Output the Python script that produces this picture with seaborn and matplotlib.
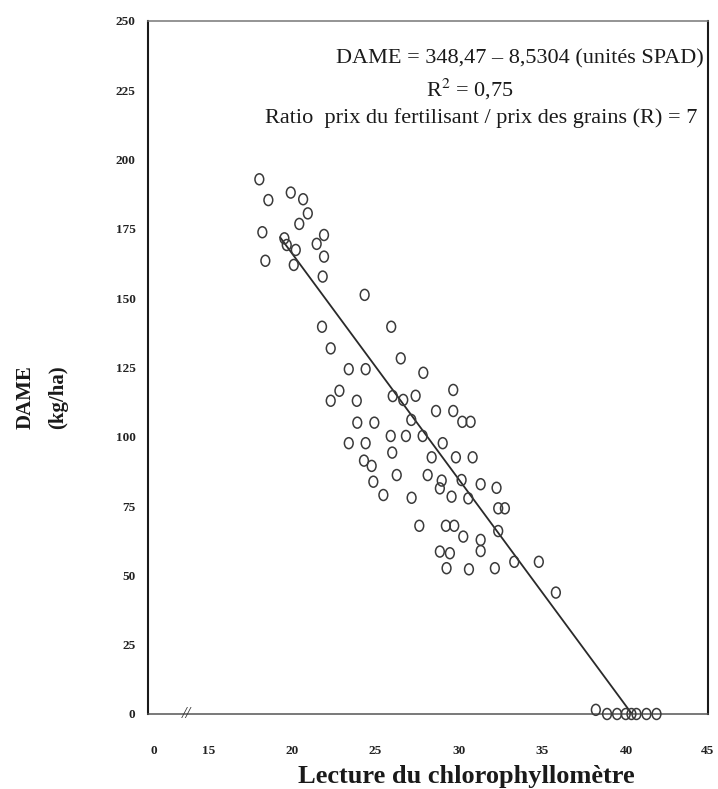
import numpy as np
import pandas as pd
import matplotlib
matplotlib.use('Agg')
import matplotlib.pyplot as plt
from matplotlib.path import Path
import seaborn as sns

# Lectures SPAD et DAME
spad = [18.06, 18.60, 19.94, 20.68, 20.96, 20.45, 18.24, 19.56, 19.70, 20.24,
        20.12, 21.93, 21.49, 21.93, 18.42, 21.85, 24.36, 21.81, 25.95, 22.33,
        26.52, 23.41, 24.42, 27.87, 22.85, 22.33, 23.89, 26.04, 26.67, 27.41,
        29.66, 23.92, 24.94, 27.15, 28.63, 29.66, 30.20, 30.70, 25.92, 26.83,
        27.83, 23.41, 24.42, 29.03, 26.01, 28.37, 29.82, 30.82, 24.32, 24.78,
        26.28, 28.13, 28.97, 28.86, 30.16, 31.30, 32.25, 24.88, 25.48, 27.17,
        29.56, 30.56, 32.35, 32.75, 32.35, 27.63, 29.22, 29.72, 30.26, 31.30,
        31.30, 28.86, 29.46, 29.26, 30.60, 32.15, 33.31, 34.78, 35.80,
        38.19, 38.86, 39.46, 39.98, 40.32, 40.62, 41.22, 41.82]
dame = [192.9, 185.4, 188.1, 185.7, 180.6, 176.8, 173.8, 171.6, 169.2, 167.4,
        162.0, 172.8, 169.6, 165.0, 163.5, 157.8, 151.2, 139.7, 139.7, 131.9,
        128.3, 124.4, 124.4, 123.1, 116.6, 113.0, 113.0, 114.7, 113.3, 114.8,
        116.9, 105.1, 105.1, 106.1, 109.3, 109.3, 105.4, 105.4, 100.3, 100.3,
        100.3, 97.7, 97.7, 97.7, 94.3, 92.6, 92.6, 92.6, 91.4, 89.5,
        86.2, 86.2, 84.2, 81.4, 84.4, 82.9, 81.6, 83.8, 79.0, 78.0,
        78.4, 77.8, 74.2, 74.2, 66.0, 67.9, 67.9, 67.9, 64.0, 62.8,
        58.8, 58.6, 58.0, 52.6, 52.2, 52.6, 54.9, 54.9, 43.8,
        1.5, 0.0, 0.0, 0.0, 0.0, 0.0, 0.0, 0.0]

# droite de regression telle que tracee
line_x = [19.3, 40.35]
line_y = [172.0, 0.0]

x_ticks = [11.75, 15, 20, 25, 30, 35, 40, 44.9]
x_labels = ['0', '15', '20', '25', '30', '35', '40', '45']
y_ticks = [0, 25, 50, 75, 100, 125, 150, 175, 200, 225, 250]

annot = ["DAME = 348,47 \u2013 8,5304 (unités SPAD)",
         "R$^{2}$ = 0,75",
         "Ratio  prix du fertilisant / prix des grains (R) = 7"]

df = pd.DataFrame({'SPAD': spad, 'DAME': dame})

sns.set_theme(style='white')
plt.rcParams['font.family'] = ['Liberation Serif', 'DejaVu Serif']
plt.rcParams['mathtext.fontset'] = 'stix'

fig = plt.figure(figsize=(7.18, 7.89), dpi=100)
ax = fig.add_axes([148 / 718, 1 - 714 / 789, 560 / 718, 693 / 789])

# marqueur cercle un peu ovale comme sur le scan
circ = Path.unit_circle()
oval = Path(circ.vertices * np.array([0.8, 1.0]), circ.codes)

sns.scatterplot(data=df, x='SPAD', y='DAME', marker=oval, s=62,
                facecolor='none', edgecolor='#3a3a3a', linewidth=1.1,
                ax=ax, zorder=3, clip_on=False)
sns.lineplot(x=line_x, y=line_y, color='#2a2a2a', linewidth=1.3, ax=ax, zorder=2)

ax.set_xlim(11.4, 44.9)
ax.set_ylim(0, 250)
ax.set_xticks(x_ticks)
ax.set_xticklabels(x_labels)
ax.set_yticks(y_ticks)
ax.tick_params(axis='both', length=0, labelsize=9.5)
ax.tick_params(axis='x', pad=22)
ax.tick_params(axis='y', pad=9)
for lab in ax.get_xticklabels() + ax.get_yticklabels():
    lab.set_fontweight('bold')
    lab.set_color('#222222')

for side in ['left', 'right']:
    ax.spines[side].set_color('#1a1a1a')
    ax.spines[side].set_linewidth(1.5)
ax.spines['top'].set_color('#777777')
ax.spines['top'].set_linewidth(1.1)
ax.spines['bottom'].set_color('#555555')
ax.spines['bottom'].set_linewidth(1.1)
ax.spines['bottom'].set_linestyle((0, (4, 1)))

ax.text(13.7, 0, '//', ha='center', va='center', fontsize=12,
        style='italic', color='#333333', zorder=4)

ax.set_xlabel('')
ax.set_ylabel('')

# position (px) de chaque ligne du texte
annot_x = [520, 470, 481]
annot_y = [59, 89, 118]
for txt, xp, yp in zip(annot, annot_x, annot_y):
    fig.text(xp / 718, 1 - yp / 789, txt, ha='center', va='center',
             fontsize=16, color='#1a1a1a')

fig.text(466 / 718, 1 - 777 / 789, 'Lecture du chlorophyllomètre',
         ha='center', va='center', fontsize=19, fontweight='bold', color='#1a1a1a')
fig.text(26 / 718, 1 - 397 / 789, 'DAME', ha='center', va='center',
         rotation=90, fontsize=15, fontweight='bold', color='#1a1a1a')
fig.text(58 / 718, 1 - 397 / 789, '(kg/ha)', ha='center', va='center',
         rotation=90, fontsize=15, fontweight='bold', color='#1a1a1a')

fig.savefig('out.png', dpi=100)
